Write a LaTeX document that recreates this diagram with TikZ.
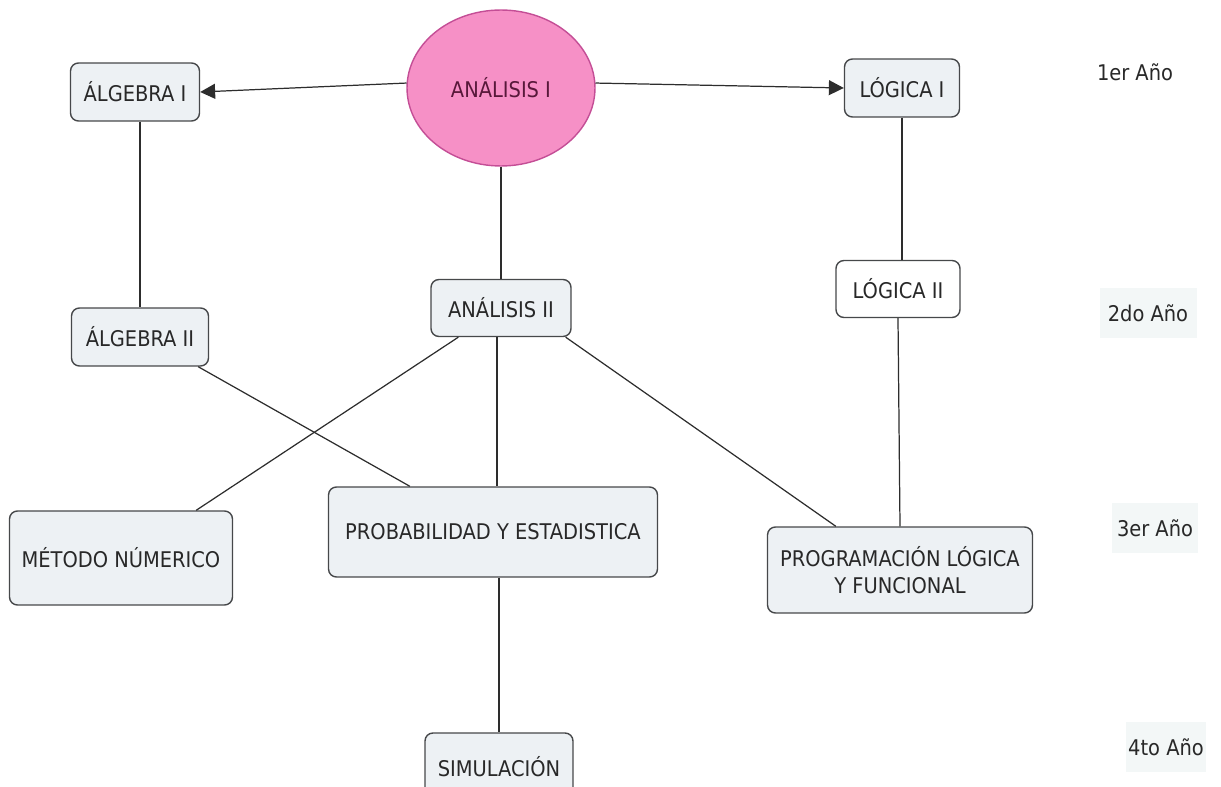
\documentclass[tikz,border=0pt]{standalone}
\usepackage{xcolor}
\usepackage{fontspec}
\setmainfont{DejaVu Sans Condensed}
\usepackage{tikz}
\usetikzlibrary{positioning,calc,arrows.meta,shapes.geometric}
\definecolor{boxclr}{RGB}{70,72,74}
\definecolor{boxbg}{RGB}{237,241,244}
\definecolor{textclr}{RGB}{40,40,40}
\definecolor{lineclr}{RGB}{45,45,45}
\definecolor{analisisbg}{RGB}{246,144,198}
\definecolor{analisisclr}{RGB}{196,78,150}
\definecolor{analisistxt}{RGB}{88,24,58}
\definecolor{yearbg}{RGB}{243,247,247}

\tikzset{
  mapbox/.style={draw=boxclr, fill=boxbg, line width=0.8pt, rounded corners=4.5pt,
                 align=center, inner sep=2pt, text=textclr,
                 font=\fontsize{12.3}{15.5}\selectfont},
  yearlbl/.style={fill=yearbg, inner sep=0pt, text=textclr,
                  font=\fontsize{12.3}{15.5}\selectfont},
  link/.style={draw=lineclr, line width=0.7pt},
  tolink/.style={link, -{Triangle[length=8.5pt,width=8.5pt]}},
}

\begin{document}
\begin{tikzpicture}[x=0.02cm, y=-0.02cm]
  \useasboundingbox (0,0) rectangle (1221,787);
  \node[ellipse, draw=analisisclr, fill=analisisbg, line width=0.8pt,
        minimum width=3.76cm, minimum height=3.12cm, inner sep=0pt,
        text=analisistxt, font=\fontsize{12.3}{15.5}\selectfont]
    (an1) at (501,88) {ANÁLISIS I};
  \node[mapbox, minimum width=2.58cm, minimum height=1.16cm] (alg1) at (135,92) {ÁLGEBRA I};
  \node[mapbox, minimum width=2.30cm, minimum height=1.16cm] (log1) at (902,88) {LÓGICA I};
  \node[mapbox, minimum width=2.80cm, minimum height=1.14cm] (an2) at (501,308) {ANÁLISIS II};
  \node[mapbox, minimum width=2.74cm, minimum height=1.16cm] (alg2) at (140,337) {ÁLGEBRA II};
  \node[mapbox, fill=white, minimum width=2.48cm, minimum height=1.14cm] (log2) at (898,289) {LÓGICA II};
  \node[mapbox, minimum width=4.46cm, minimum height=1.88cm] (met) at (121,558) {MÉTODO NÚMERICO};
  \node[mapbox, minimum width=6.58cm, minimum height=1.80cm] (prob) at (493,532) {PROBABILIDAD Y ESTADISTICA};
  \node[mapbox, minimum width=5.30cm, minimum height=1.72cm] (prog) at (900,570)
    {PROGRAMACIÓN LÓGICA\\ Y FUNCIONAL};
  \node[mapbox, minimum width=2.96cm, minimum height=1.36cm] (sim) at (499,767) {SIMULACIÓN};

  \node[yearlbl, fill=none] (year1) at (1135,72) {1er Año};
  \node[yearlbl, minimum width=1.94cm, minimum height=1.0cm] (year2) at (1148,313) {2do Año};
  \node[yearlbl, minimum width=1.72cm, minimum height=1.0cm] (year3) at (1155,528) {3er Año};
  \node[yearlbl, minimum width=1.60cm, minimum height=1.0cm] (year4) at (1166,747) {4to Año};

  \draw[tolink] (an1.177) -- (alg1.east);
  \draw[tolink] (an1.3) -- (log1.west);
  \draw[link] (an1.south) -- (an2.north);
  \draw[link] (alg2.north |- alg1.south) -- (alg2.north);
  \draw[link] (log1.south) -- (log1.south |- log2.north);
  \draw[link] (log2.south) -- (prog.north);
  \draw[link] ($(alg2.south east)+(-11,0)$) -- ($(prob.north west)+(82,0)$);
  \draw[link] ($(an2.south west)+(28,0)$) -- ($(met.north east)+(-37,0)$);
  \draw[link] ($(an2.south)+(-4,0)$) -- ($(prob.north)+(4,0)$);
  \draw[link] ($(an2.south east)+(-6,0)$) -- ($(prog.north west)+(69,0)$);
  \draw[link] (sim.north |- prob.south) -- (sim.north);
\end{tikzpicture}
\end{document}
